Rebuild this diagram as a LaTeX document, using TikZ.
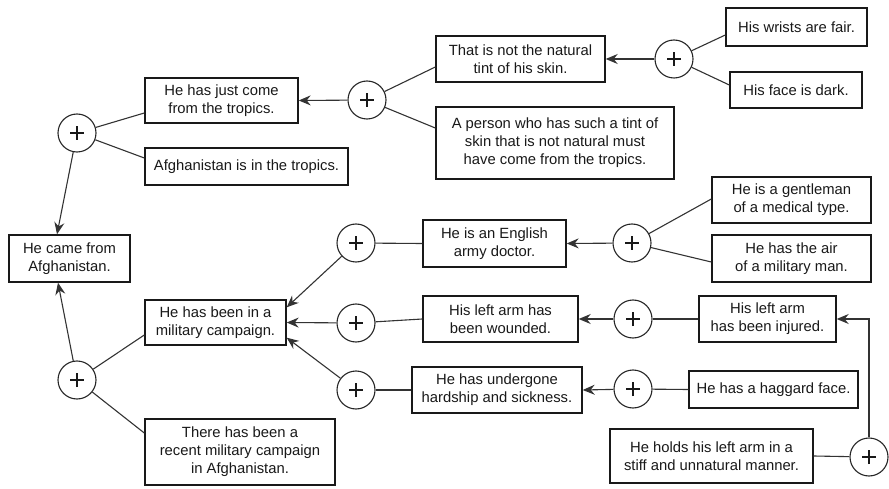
\documentclass[tikz,border=0pt]{standalone}
\usepackage{fontspec}
\setmainfont{Liberation Sans}
\usetikzlibrary{arrows.meta}
\begin{document}
\begin{tikzpicture}[x=1pt,y=-1pt,
  every node/.style={font=\fontsize{14.8}{18}\selectfont},
  claim/.style={draw=black!90, line width=1.4pt, fill=white, inner sep=0pt,
    align=center, text=black!90},
  joint/.style={circle, draw=black!85, line width=1.1pt, fill=white,
    minimum size=38pt, inner sep=0pt,
    path picture={\draw[line width=1.9pt, black!90]
      ([xshift=-7pt]path picture bounding box.center) -- ++(14pt,0)
      ([yshift=-7pt]path picture bounding box.center) -- ++(0,14pt);}},
  link/.style={draw=black!80, line width=1.1pt},
  infer/.style={link, -{Stealth[length=12pt,width=10pt,inset=4pt]}}
]
\useasboundingbox (0,0) rectangle (889,489);

% statements
\node[claim, minimum width=153pt, minimum height=45pt] (tropics) at (221.5,100.5) {He has just come\\from the tropics.};
\node[claim, minimum width=203pt, minimum height=37pt] (afgtrop) at (246.5,166.5) {Afghanistan is in the tropics.};
\node[claim, minimum width=121pt, minimum height=47pt] (came) at (69.5,258.5) {He came from\\Afghanistan.};
\node[claim, minimum width=169pt, minimum height=46pt] (tint) at (520.5,59) {That is not the natural\\tint of his skin.};
\node[claim, minimum width=238pt, minimum height=72pt] (person) at (555,143) {A person who has such a tint of\\skin that is not natural must\\have come from the tropics.};
\node[claim, minimum width=141pt, minimum height=38pt] (wrists) at (796.5,27) {His wrists are fair.};
\node[claim, minimum width=132pt, minimum height=36pt] (face) at (796,90) {His face is dark.};
\node[claim, minimum width=143pt, minimum height=47pt] (english) at (494.5,243.5) {He is an English\\army doctor.};
\node[claim, minimum width=159pt, minimum height=46pt] (gentle) at (791.5,200) {He is a gentleman\\of a medical type.};
\node[claim, minimum width=159pt, minimum height=47pt] (air) at (791.5,258.5) {He has the air\\of a military man.};
\node[claim, minimum width=141pt, minimum height=45pt] (campaign) at (215.5,322.5) {He has been in a\\military campaign.};
\node[claim, minimum width=155pt, minimum height=46pt] (wounded) at (500.5,319) {His left arm has\\been wounded.};
\node[claim, minimum width=137pt, minimum height=46pt] (injured) at (767.5,319) {His left arm\\has been injured.};
\node[claim, minimum width=170pt, minimum height=46pt] (hardship) at (497,390) {He has undergone\\hardship and sickness.};
\node[claim, minimum width=169pt, minimum height=37pt] (haggard) at (773.5,389.5) {He has a haggard face.};
\node[claim, minimum width=203pt, minimum height=54pt] (holds) at (711.5,456) {He holds his left arm in a\\stiff and unnatural manner.};
\node[claim, minimum width=190pt, minimum height=66pt] (recent) at (240,452) {There has been a\\recent military campaign\\in Afghanistan.};

% conjunction joints
\node[joint] (j1) at (77,133) {};
\node[joint] (j2) at (367,100) {};
\node[joint] (j3) at (674,59) {};
\node[joint] (j4) at (632,243) {};
\node[joint] (j5) at (356,243) {};
\node[joint] (j6) at (356,323) {};
\node[joint] (j7) at (356,390) {};
\node[joint] (j8) at (77,380) {};
\node[joint] (j9) at (633,319) {};
\node[joint] (j10) at (869,457) {};
\node[joint] (j11) at (633,389) {};

% premises joined at each joint
\draw[link] (j1) -- ([yshift=-12.5pt]tropics.west);
\draw[link] (j1) -- ([yshift=8.5pt]afgtrop.west);
\draw[link] (j2) -- ([yshift=-8pt]tint.west);
\draw[link] (j2) -- ([yshift=15pt]person.west);
\draw[link] (j3) -- ([yshift=-8pt]wrists.west);
\draw[link] (j3) -- ([yshift=5pt]face.west);
\draw[link] (j4) -- ([yshift=1pt]gentle.west);
\draw[link] (j4) -- ([yshift=-3.5pt]air.west);
\draw[link] (j5) -- (english.west);
\draw[link] (j6) -- (wounded.west);
\draw[link] (j7) -- (hardship.west);
\draw[link] (j8) -- ([yshift=-12.5pt]campaign.west);
\draw[link] (j8) -- ([yshift=19pt]recent.west);
\draw[link] (j9) -- (injured.west);
\draw[link] (j11) -- (haggard.west);
\draw[link] (holds.east) -- (j10);

% inferences
\draw[infer] (j1) -- ([xshift=-12.5pt]came.north);
\draw[infer] (j8) -- ([xshift=-11.5pt]came.south);
\draw[infer] (j2) -- (tropics.east);
\draw[infer] (j3) -- (tint.east);
\draw[infer] (j4) -- (english.east);
\draw[infer] (j5) -- ([yshift=-8pt]campaign.north east);
\draw[infer] (j6) -- (campaign.east);
\draw[infer] (j7) -- ([yshift=8pt]campaign.south east);
\draw[infer] (j9) -- (wounded.east);
\draw[infer] (j11) -- (hardship.east);
\draw[infer] (j10) |- (injured.east);
\end{tikzpicture}
\end{document}
